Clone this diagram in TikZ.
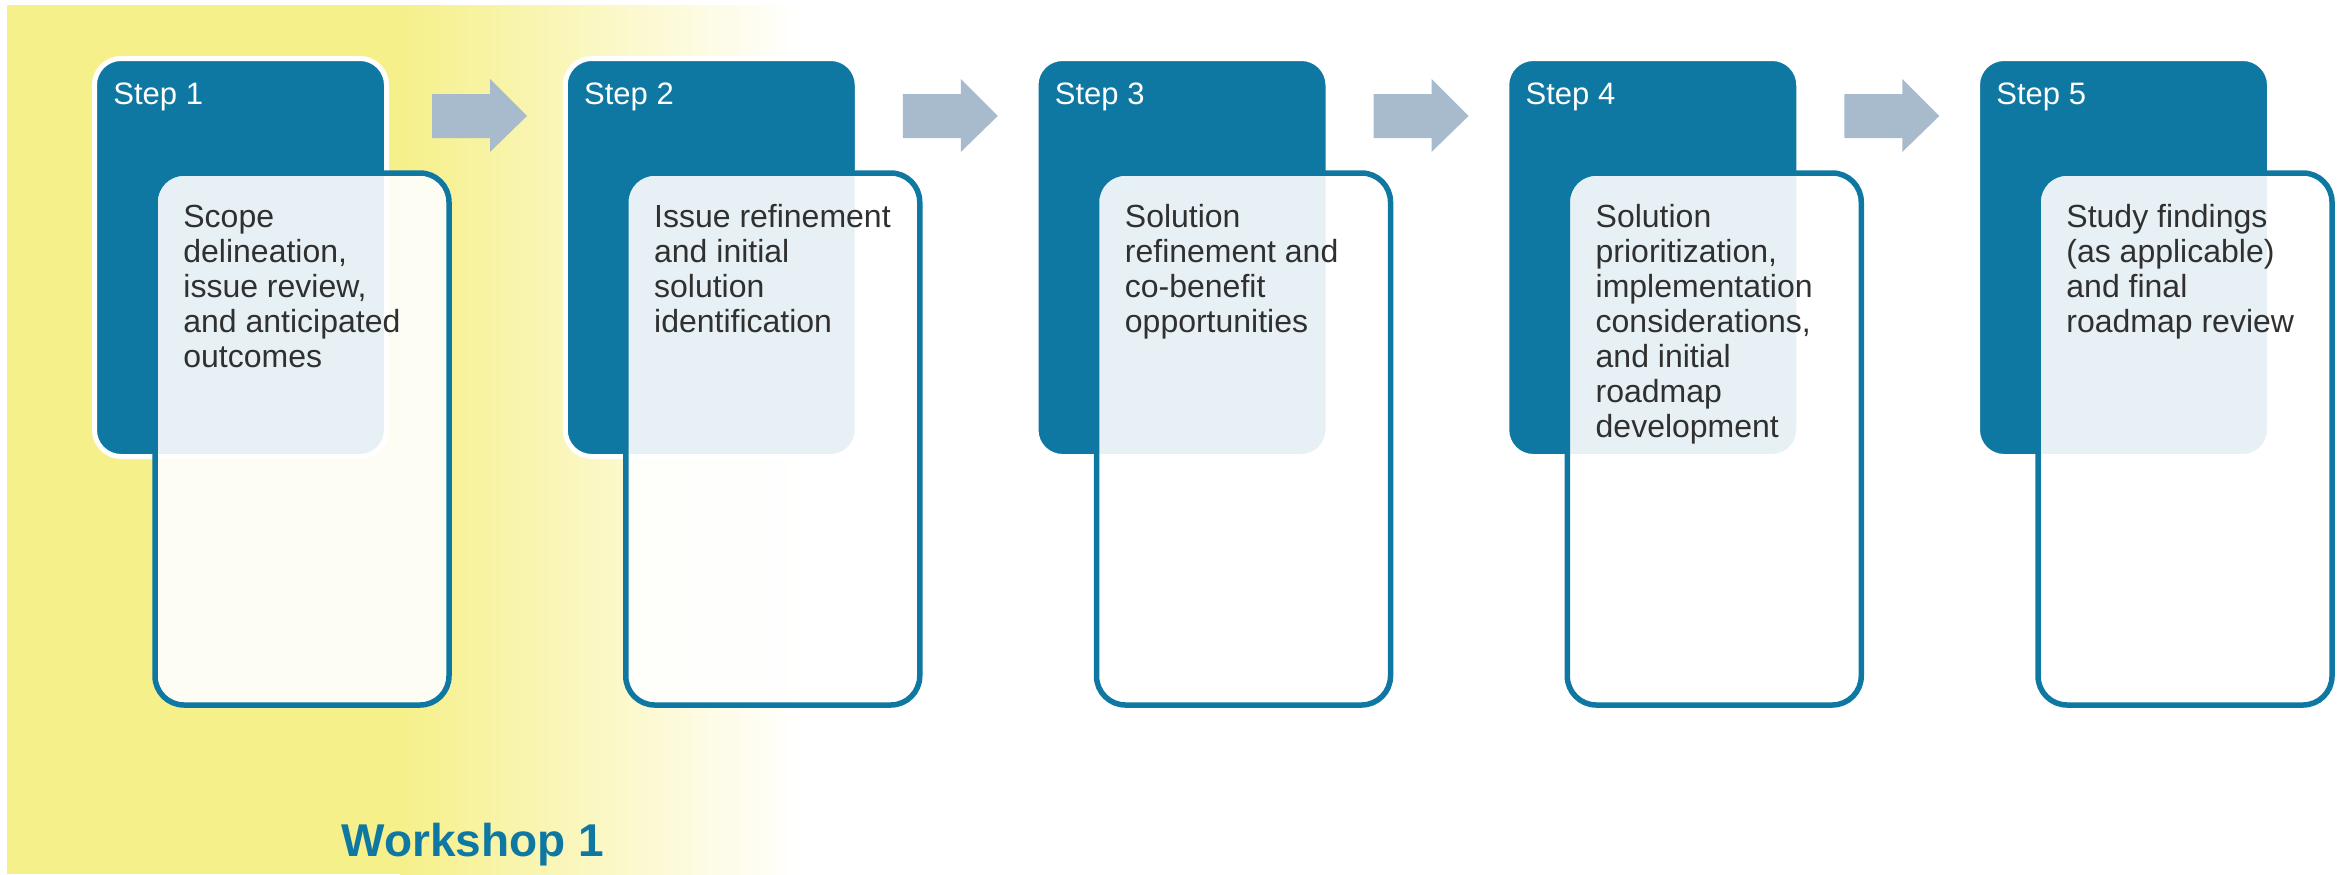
\documentclass[tikz,border=0pt]{standalone}
\usepackage{fontspec}
\setmainfont{Liberation Sans}
\definecolor{stepblue}{HTML}{0F78A2}
\definecolor{arrowgray}{HTML}{A8BBCC}
\definecolor{bodytext}{HTML}{303030}
\definecolor{bgyellow}{HTML}{F6F08A}
\newcommand{\bodylines}[1]{\begin{tabular}[t]{@{}l@{}}#1\end{tabular}}
\begin{document}
\begin{tikzpicture}[x=0.5pt,y=-0.5pt,
  darkbox/.style={fill=stepblue, draw=white, line width=2.5pt, rounded corners=13.25pt,
    minimum width=146pt, minimum height=199pt, inner sep=0pt},
  panelbox/.style={draw=stepblue, line width=2.75pt, fill=white, fill opacity=0.9,
    rounded corners=14.5pt, minimum width=147pt, minimum height=266pt, inner sep=0pt},
  steplabel/.style={anchor=base west, inner sep=0pt, text=white, font=\fontsize{15.5pt}{18pt}\selectfont},
  bodylabel/.style={anchor=base west, inner sep=0pt, text=bodytext,
    font=\fontsize{16pt}{17.5pt}\selectfont},
  blockarrow/.style={fill=arrowgray}]
\useasboundingbox (0,0) rectangle (2343,874);
% background
\fill[bgyellow] (7,5) rectangle (401,874);
\shade[left color=bgyellow, right color=white, shading angle=90] (400,5) rectangle (800,874);
% boxes
\foreach \i in {0,...,4}{
  \pgfmathsetmacro\dx{470.75*\i}
  \node[darkbox] (dark\i) at (240.5+\dx,257.5) {};
  \node[panelbox] (panel\i) at (302+\dx,439) {};
}
\foreach \i in {0,...,3}{
  \pgfmathsetmacro\dx{470.75*\i}
  \coordinate (arr\i) at (432+\dx,116);
  \fill[blockarrow] (arr\i) ++(0,-22) -- ++(58,0) -- ++(0,-15) -- ++(37,37) -- ++(-37,36)
     -- ++(0,-14) -- ++(-58,0) -- cycle;
}
% step labels
\node[steplabel] (lab1) at (113,104) {Step 1};
\node[steplabel] (lab2) at (583.75,104) {Step 2};
\node[steplabel] (lab3) at (1054.5,104) {Step 3};
\node[steplabel] (lab4) at (1525.25,104) {Step 4};
\node[steplabel] (lab5) at (1996,104) {Step 5};
% body texts
\node[bodylabel] (txt1) at (183,227) {\bodylines{Scope\\delineation,\\issue review,\\and anticipated\\outcomes}};
\node[bodylabel] (txt2) at (653.75,227) {\bodylines{Issue refinement\\and initial\\solution\\identification}};
\node[bodylabel] (txt3) at (1124.5,227) {\bodylines{Solution\\refinement and\\co-benefit\\opportunities}};
\node[bodylabel] (txt4) at (1595.25,227) {\bodylines{Solution\\prioritization,\\implementation\\considerations,\\and initial\\roadmap\\development}};
\node[bodylabel] (txt5) at (2066,227) {\bodylines{Study findings\\(as applicable)\\and final\\roadmap review}};
% workshop label
\node[anchor=base west, inner sep=0pt, text=stepblue, font=\bfseries\fontsize{23pt}{27pt}\selectfont] (ws) at (341,856) {Workshop 1};
\end{tikzpicture}
\end{document}
